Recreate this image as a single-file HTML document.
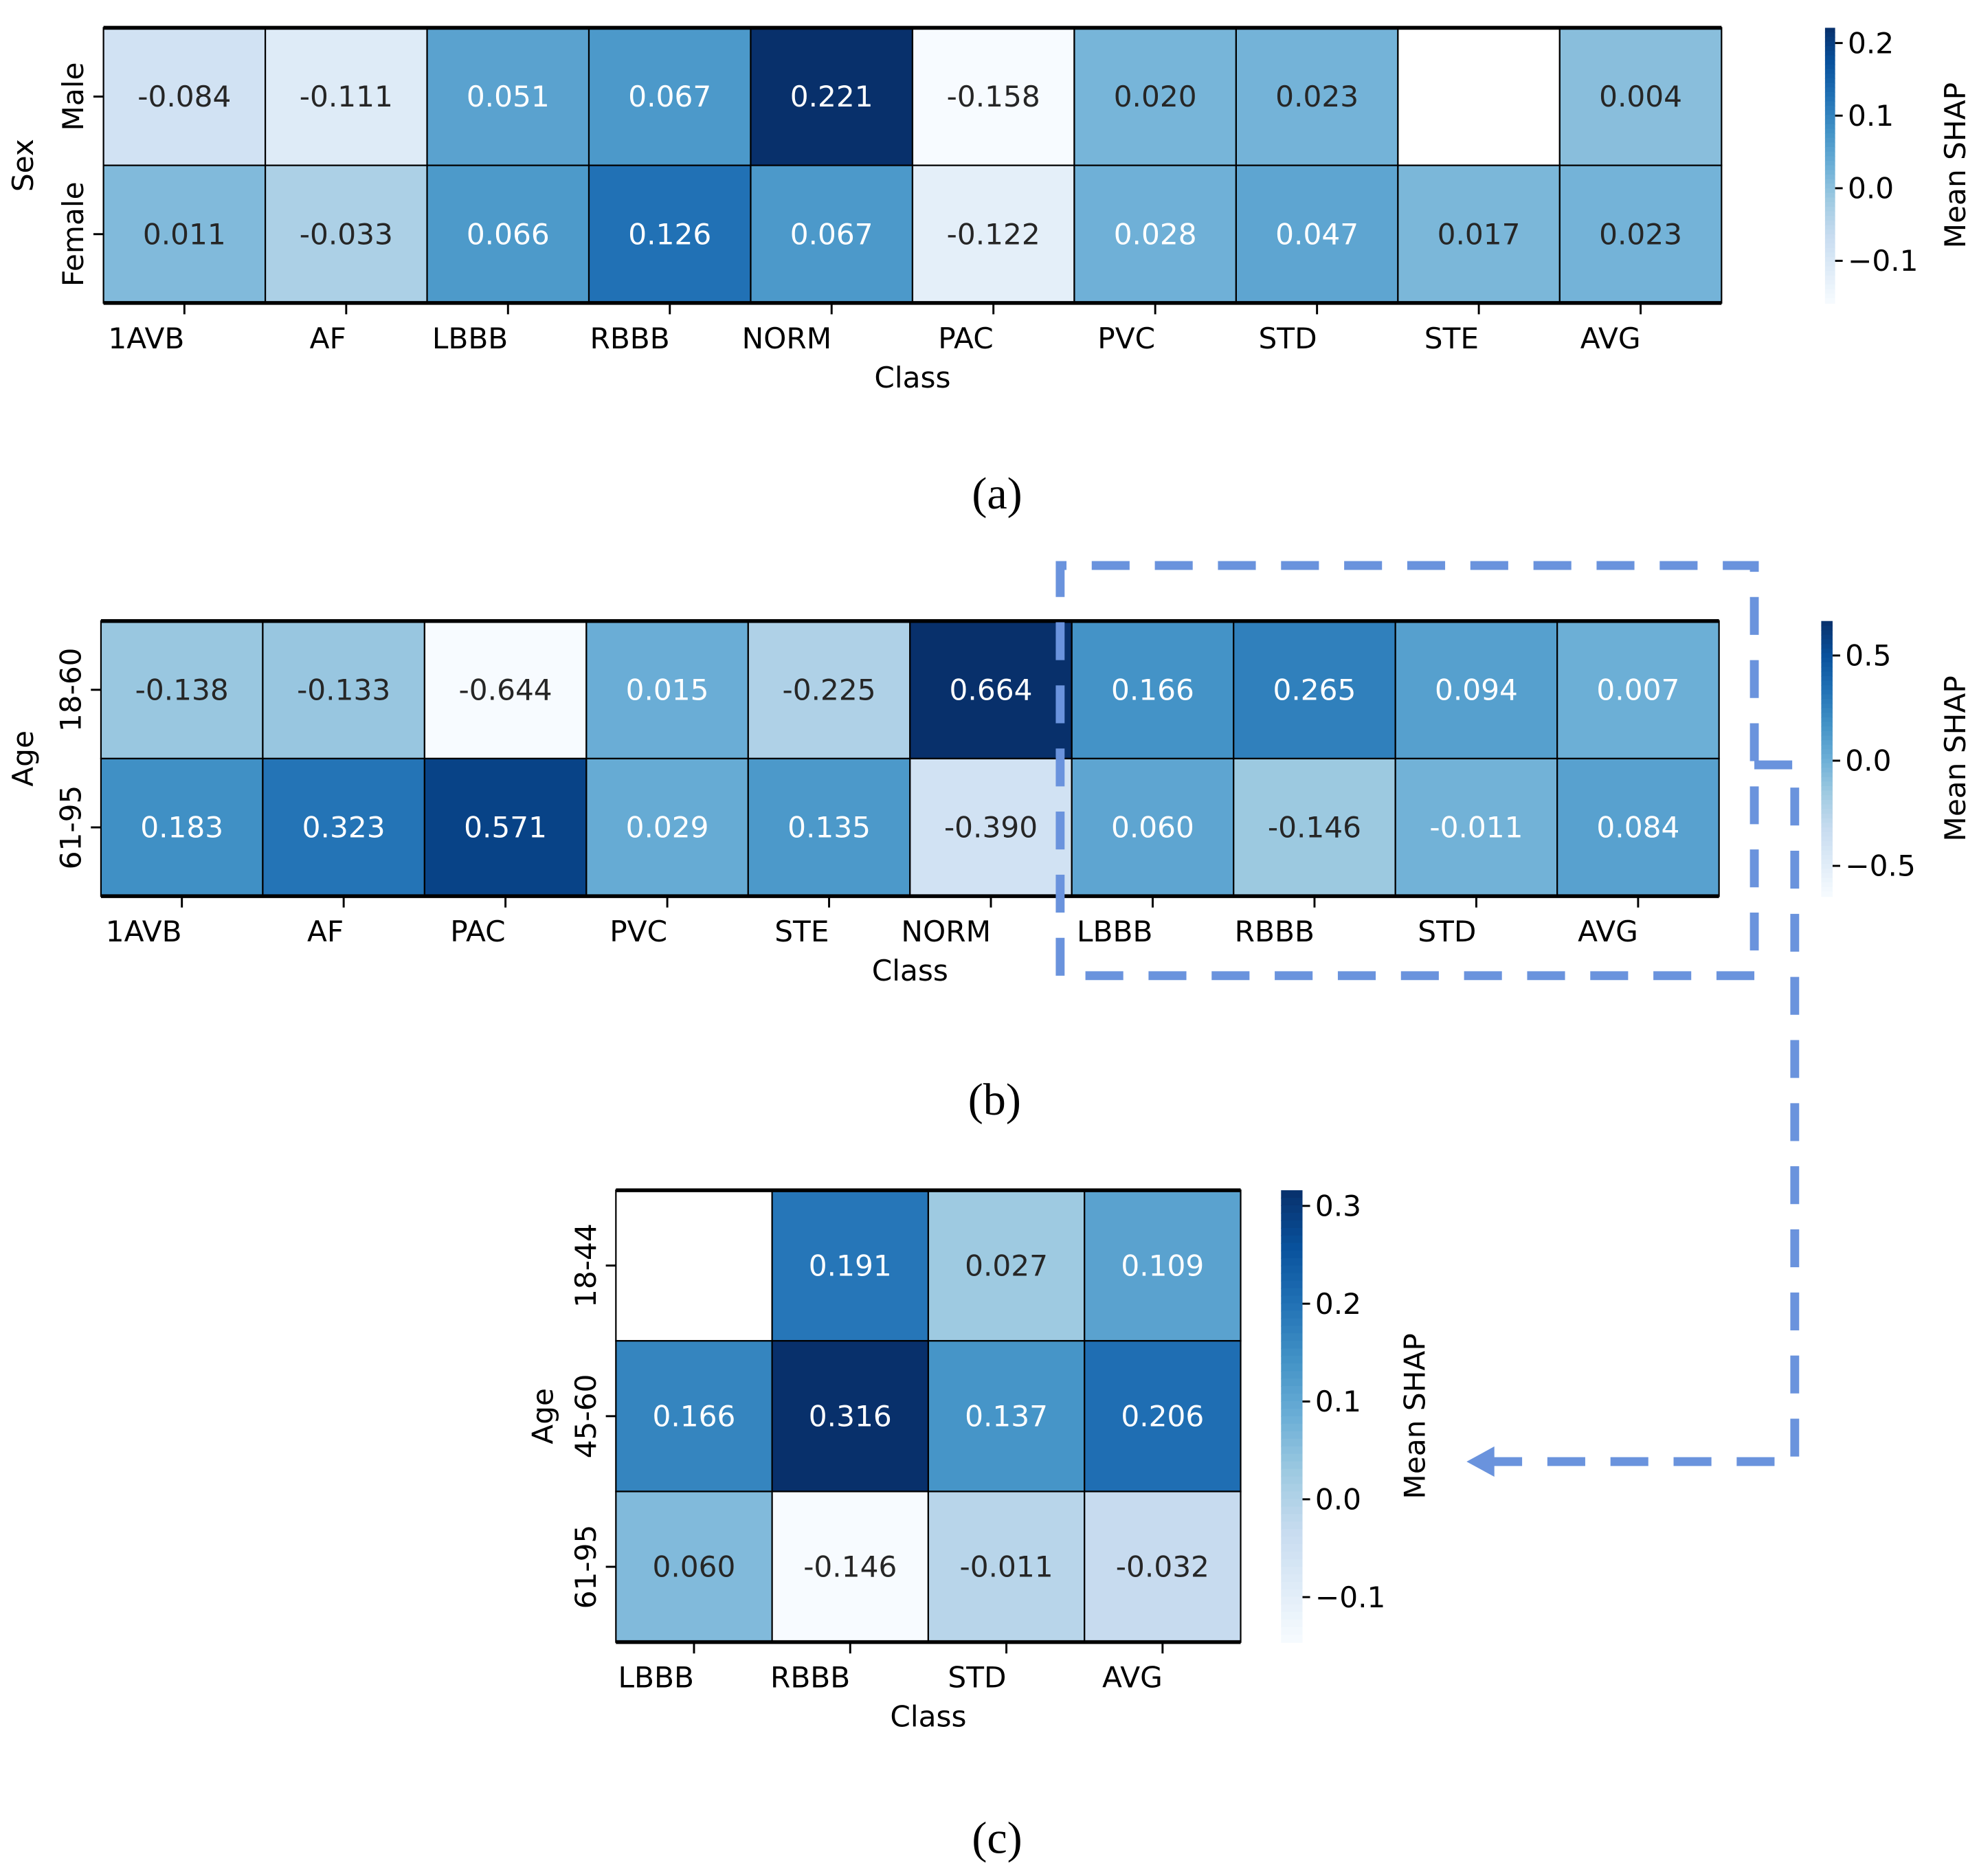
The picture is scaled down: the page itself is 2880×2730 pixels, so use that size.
<!DOCTYPE html>
<html><head><meta charset="utf-8">
<style>
html,body{margin:0;padding:0;background:#fff;}
svg{display:block;}
text{font-family:"DejaVu Sans","Liberation Sans",sans-serif;}
</style></head>
<body>
<svg id="fig" xmlns="http://www.w3.org/2000/svg" width="2880" height="2730" viewBox="0 0 1568 1486.3">
<rect x="0" y="0" width="1568" height="1486.3" fill="#fff"/>
<g id="dashes" fill="none" stroke="#6a93dd" stroke-width="7" stroke-dasharray="30 20">
<path d="M840,773 L840,448 L1390,448 L1390,773 Z"/>
<path d="M1390,606 L1422,606 L1422,1158 L1182,1158"/>
</g>
<polygon points="1162,1158 1184,1146 1184,1170" fill="#6a93dd"/>
<text x="790" y="403" text-anchor="middle" font-size="36" style="font-family:'Liberation Serif',serif">(a)</text>
<text x="788" y="883" text-anchor="middle" font-size="36" style="font-family:'Liberation Serif',serif">(b)</text>
<text x="790" y="1468" text-anchor="middle" font-size="36" style="font-family:'Liberation Serif',serif">(c)</text>
</svg>
<script>
// Panel (a) data
const aClasses = ["1AVB","AF","LBBB","RBBB","NORM","PAC","PVC","STD","STE","AVG"];
const aRows = ["Male","Female"];
const aMale = [-0.084,-0.111,0.051,0.067,0.221,-0.158,0.020,0.023,null,0.004];
const aFemale = [0.011,-0.033,0.066,0.126,0.067,-0.122,0.028,0.047,0.017,0.023];
const aTicks = [-0.1,0.0,0.1,0.2];
// Panel (b) data
const bClasses = ["1AVB","AF","PAC","PVC","STE","NORM","LBBB","RBBB","STD","AVG"];
const bRows = ["18-60","61-95"];
const bYoung = [-0.138,-0.133,-0.644,0.015,-0.225,0.664,0.166,0.265,0.094,0.007];
const bOld = [0.183,0.323,0.571,0.029,0.135,-0.390,0.060,-0.146,-0.011,0.084];
const bTicks = [-0.5,0.0,0.5];
// Panel (c) data
const cClasses = ["LBBB","RBBB","STD","AVG"];
const cRows = ["18-44","45-60","61-95"];
const cY = [null,0.191,0.027,0.109];
const cM = [0.166,0.316,0.137,0.206];
const cO = [0.060,-0.146,-0.011,-0.032];
const cTicks = [-0.1,0.0,0.1,0.2,0.3];

const NS="http://www.w3.org/2000/svg";
const svg=document.getElementById('fig');
const FS=23;
const STOPS=["#f7fbff","#deebf7","#c6dbef","#9ecae1","#6baed6","#4292c6","#2171b5","#08519c","#08306b"].map(h=>[parseInt(h.substr(1,2),16),parseInt(h.substr(3,2),16),parseInt(h.substr(5,2),16)]);
function blues(t){t=Math.max(0,Math.min(1,t));const p=t*8,i=Math.min(7,Math.floor(p)),f=p-i;const a=STOPS[i],b=STOPS[i+1];return [0,1,2].map(k=>Math.round(a[k]+(b[k]-a[k])*f));}
function lum(c){const l=c.map(v=>{v/=255;return v<=0.03928?v/12.92:Math.pow((v+0.055)/1.055,2.4);});return 0.2126*l[0]+0.7152*l[1]+0.0722*l[2];}
function mk(tag,attrs,parent){const e=document.createElementNS(NS,tag);for(const k in attrs)e.setAttribute(k,attrs[k]);(parent||svg).appendChild(e);return e;}

function heatmap(o){
  const g=mk('g',{});
  
  
  const all=o.data.flat().filter(v=>v!==null);
  const vmin=Math.min(...all),vmax=Math.max(...all);
  const nc=o.cols.length,nr=o.rows.length;
  const cw=(o.x1-o.x0)/nc,rh=(o.y1-o.y0)/nr;
  const xs=i=>o.x0+i*cw, ys=j=>o.y0+j*rh;
  const norm=v=>(v-vmin)/(vmax-vmin);
  o.data.forEach((row,j)=>row.forEach((v,i)=>{
    const c=v===null?[255,255,255]:blues(norm(v));
    const r=mk('rect',{x:xs(i),y:ys(j),width:cw,height:rh,fill:`rgb(${c})`,stroke:'#000','stroke-width':1.2},g);
    
    
    if(v!==null){
      const t=mk('text',{x:xs(i)+cw/2,y:ys(j)+rh/2+8,'text-anchor':'middle','font-size':FS,fill:lum(c)>0.408?'#262626':'#fff'},g);
      t.textContent=v.toFixed(3);
      
      
    }
  }));
  mk('line',{x1:o.x0,x2:o.x1,y1:o.y0,y2:o.y0,stroke:'#000','stroke-width':3},g);
  mk('line',{x1:o.x0,x2:o.x1,y1:o.y1,y2:o.y1,stroke:'#000','stroke-width':3},g);
  o.cols.forEach((c,i)=>{
    const cx=xs(i)+cw/2;
    mk('line',{x1:cx,x2:cx,y1:o.y1,y2:o.y1+9,stroke:'#000','stroke-width':1.6},g);
    const t=mk('text',{x:cx,y:o.y1+36,'text-anchor':'end','font-size':FS},g);
    t.textContent=c;
    
    
  });
  o.rows.forEach((r,j)=>{
    const cy=ys(j)+rh/2;
    mk('line',{x1:o.x0-8,x2:o.x0,y1:cy,y2:cy,stroke:'#000','stroke-width':1.6},g);
    const t=mk('text',{x:0,y:0,'text-anchor':'middle','font-size':FS,transform:`translate(${o.x0-16},${cy}) rotate(-90)`},g);
    t.textContent=r;
    
    
  });
  const xt=mk('text',{x:(o.x0+o.x1)/2,y:o.y1+67,'text-anchor':'middle','font-size':FS},g);
  xt.textContent='Class';
  
  
  const yt=mk('text',{x:0,y:0,'text-anchor':'middle','font-size':FS,transform:`translate(${o.yTitleX},${(o.y0+o.y1)/2}) rotate(-90)`},g);
  yt.textContent=o.yTitle;
  
  
  const cb=mk('g',{},g);
  
  
  const N=60,h=(o.y1-o.y0)/N;
  for(let k=0;k<N;k++){const c=blues(1-(k+0.5)/N);mk('rect',{x:o.cbx,y:o.y0+k*h,width:o.cbw,height:h+0.6,fill:`rgb(${c})`},cb);}
  const cy=v=>o.y1-(v-vmin)/(vmax-vmin)*(o.y1-o.y0);
  o.ticks.forEach(v=>{
    const y=cy(v);
    mk('line',{x1:o.cbx+o.cbw,x2:o.cbx+o.cbw+6,y1:y,y2:y,stroke:'#000','stroke-width':1.6},cb);
    const t=mk('text',{x:o.cbx+o.cbw+10,y:y+8,'font-size':FS},cb);
    t.textContent=(v<0?'\u2212':'')+Math.abs(v).toFixed(1);
    
    
  });
  const ct=mk('text',{x:0,y:0,'text-anchor':'middle','font-size':FS,transform:`translate(${o.cbTitleX},${(o.y0+o.y1)/2}) rotate(-90)`},cb);
  ct.textContent='Mean SHAP';
  
  
}
heatmap({name:'heatmap-sex',cols:aClasses,rows:aRows,data:[aMale,aFemale],ticks:aTicks,x0:82,x1:1364,y0:22,y1:240,yTitle:'Sex',yTitleX:26,cbx:1446,cbw:8,cbTitleX:1557});
heatmap({name:'heatmap-age-2groups',cols:bClasses,rows:bRows,data:[bYoung,bOld],ticks:bTicks,x0:80,x1:1362,y0:492,y1:710,yTitle:'Age',yTitleX:26,cbx:1443,cbw:9,cbTitleX:1557});
heatmap({name:'heatmap-age-3groups',cols:cClasses,rows:cRows,data:[cY,cM,cO],ticks:cTicks,x0:488,x1:983,y0:943,y1:1301,yTitle:'Age',yTitleX:438,cbx:1015,cbw:17,cbTitleX:1129});
svg.appendChild(document.getElementById('dashes'));
</script>
</body></html>
